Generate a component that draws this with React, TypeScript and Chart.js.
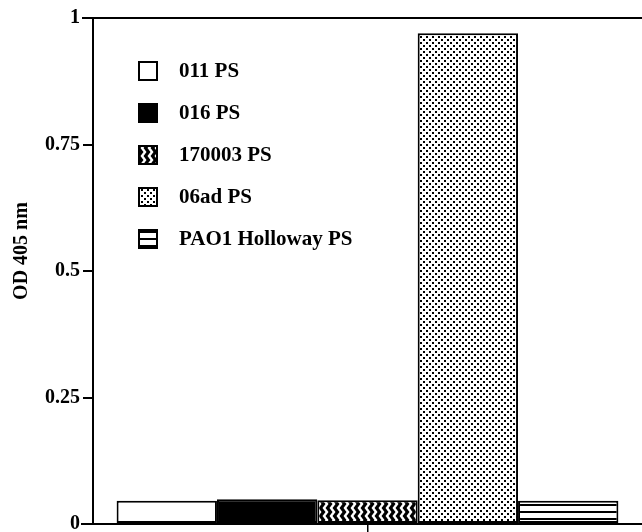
import React, { useEffect, useRef } from "react";
import { Chart, registerables } from "chart.js";

Chart.register(...registerables);

const categories = [""];
const seriesNames = ["011 PS", "016 PS", "170003 PS", "06ad PS", "PAO1 Holloway PS"];
const seriesValues = [0.046, 0.049, 0.047, 0.97, 0.046];
const yTicks = [0, 0.25, 0.5, 0.75, 1];
const yTitle = "OD 405 nm";

const FONT = '"Liberation Serif", "Times New Roman", serif';

function makeTile(w: number, h: number, draw: (c: CanvasRenderingContext2D) => void) {
  const cv = document.createElement("canvas");
  cv.width = w;
  cv.height = h;
  const c = cv.getContext("2d")!;
  draw(c);
  return cv;
}

function makePatterns(ctx: CanvasRenderingContext2D): (string | CanvasPattern)[] {
  const zig = makeTile(7, 8, (c) => {
    c.fillStyle = "#000";
    c.fillRect(0, 0, 7, 8);
    c.strokeStyle = "#fff";
    c.lineWidth = 2.4;
    c.beginPath();
    c.moveTo(2, -4);
    c.lineTo(5, 0);
    c.lineTo(2, 4);
    c.lineTo(5, 8);
    c.lineTo(2, 12);
    c.stroke();
  });
  const dots = makeTile(6, 6, (c) => {
    c.fillStyle = "#fff";
    c.fillRect(0, 0, 6, 6);
    c.fillStyle = "#000";
    c.fillRect(0, 0, 2, 2);
    c.fillRect(3, 3, 2, 2);
  });
  const lines = makeTile(6, 7, (c) => {
    c.fillStyle = "#fff";
    c.fillRect(0, 0, 6, 7);
    c.fillStyle = "#000";
    c.fillRect(0, 0, 6, 2);
  });
  return [
    "#ffffff",
    "#000000",
    ctx.createPattern(zig, "repeat")!,
    ctx.createPattern(dots, "repeat")!,
    ctx.createPattern(lines, "repeat")!,
  ];
}

export default function App() {
  const ref = useRef<HTMLCanvasElement | null>(null);

  useEffect(() => {
    const canvas = ref.current!;
    const ctx = canvas.getContext("2d")!;
    const fills = makePatterns(ctx);

    const decor = {
      id: "decor",
      afterDraw(chart: any) {
        const { ctx: c, chartArea } = chart;
        const { left, right, top, bottom } = chartArea;
        c.save();
        c.strokeStyle = "#000";
        c.lineWidth = 2;
        // top frame line
        c.beginPath();
        c.moveTo(left - 11, top);
        c.lineTo(right, top);
        c.stroke();
        // baseline extension to the left
        c.beginPath();
        c.moveTo(left - 12, bottom);
        c.lineTo(left, bottom);
        c.stroke();

        // legend
        const lx = left + 46;
        const ly = top + 53;
        const gap = 42;
        const box = 18;
        c.font = `bold 21px ${FONT}`;
        c.textBaseline = "middle";
        c.textAlign = "left";
        seriesNames.forEach((name, i) => {
          const y = ly + i * gap;
          c.fillStyle = fills[i] as any;
          c.fillRect(lx, y - box / 2, box, box);
          c.lineWidth = 2;
          c.strokeStyle = "#000";
          c.strokeRect(lx, y - box / 2, box, box);
          c.fillStyle = "#000";
          c.fillText(name, lx + 40, y + 1);
        });

        // y-axis title
        c.save();
        c.translate(22, (top + bottom) / 2 - 20);
        c.rotate(-Math.PI / 2);
        c.font = `bold 20px ${FONT}`;
        c.textAlign = "center";
        c.textBaseline = "middle";
        c.fillStyle = "#000";
        c.fillText(yTitle, 0, 0);
        c.restore();
        c.restore();
      },
    };

    const chart = new Chart(ctx, {
      type: "bar",
      data: {
        labels: categories,
        datasets: seriesNames.map((name, i) => ({
          label: name,
          data: [seriesValues[i]],
          backgroundColor: fills[i] as any,
          borderColor: "#000",
          borderWidth: 2,
          borderSkipped: false,
          barPercentage: 1,
          categoryPercentage: 0.914,
        })),
      },
      options: {
        responsive: false,
        animation: false,
        devicePixelRatio: 1,
        layout: { padding: { top: 18, right: 0, left: 0, bottom: 0 } },
        plugins: {
          legend: { display: false },
          tooltip: { enabled: false },
          title: { display: false },
        },
        scales: {
          x: {
            offset: true,
            afterFit: (scale: any) => {
              scale.height = 8;
            },
            grid: {
              drawOnChartArea: false,
              offset: false,
              tickLength: 8,
              color: "#000",
              lineWidth: 1.5,
            },
            border: { display: true, color: "#000", width: 2 },
            ticks: { display: false },
          },
          y: {
            min: 0,
            max: 1,
            afterFit: (scale: any) => {
              scale.width = 93;
            },
            afterBuildTicks: (scale: any) => {
              scale.ticks = yTicks.map((v) => ({ value: v }));
            },
            grid: {
              drawOnChartArea: false,
              tickLength: 10,
              color: "#000",
              lineWidth: 2,
            },
            border: { display: true, color: "#000", width: 2 },
            ticks: {
              color: "#000",
              padding: 3,
              font: { family: FONT, size: 20, weight: "bold", lineHeight: 0.3 },
              callback: (v: any) => String(v),
            },
          },
        },
      },
      plugins: [decor],
    });
    return () => chart.destroy();
  }, []);

  return (
    <div style={{ position: "fixed", left: 0, top: 0, width: 642, height: 532, background: "#fff" }}>
      <canvas ref={ref} width={642} height={532} style={{ display: "block" }} />
    </div>
  );
}
